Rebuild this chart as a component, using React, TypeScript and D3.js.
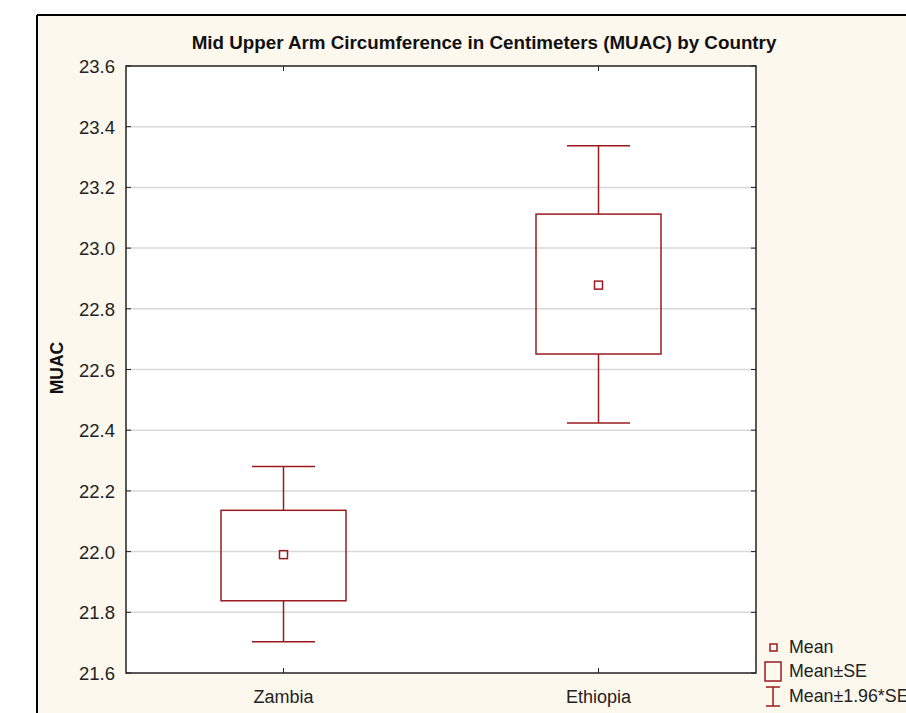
import React from 'react';
import * as d3 from 'd3';

// data
const countries = ['Zambia', 'Ethiopia'];
const means = [21.99, 22.878];
const seLow = [21.838, 22.651];
const seHigh = [22.136, 23.112];
const ciLow = [21.703, 22.424];
const ciHigh = [22.28, 23.337];
const yTicks = [21.6, 21.8, 22.0, 22.2, 22.4, 22.6, 22.8, 23.0, 23.2, 23.4, 23.6];

const W = 906;
const H = 713;
const red = '#9a1b1f';
const font = '"Liberation Sans", Arial, sans-serif';

const App = () => {
  const left = 126, right = 756, top = 66, bottom = 673;

  const y = d3.scaleLinear().domain([21.6, 23.6]).range([bottom, top]);
  const x = d3.scaleBand().domain(countries).range([left, right]);
  const cx = (c: string) => (x(c) as number) + x.bandwidth() / 2;

  const boxW = 125;
  const capW = 63;
  const m = 4;

  return (
    <svg width={W} height={H} style={{ position: 'absolute', left: 0, top: 0, display: 'block' }}>
      <rect x={0} y={0} width={W} height={H} fill="#fff" />
      <rect x={37} y={15} width={W - 37} height={H - 15} fill="#fdf8ee" />
      <line x1={37} x2={W} y1={15} y2={15} stroke="#000" strokeWidth={2} />
      <line x1={37} x2={37} y1={15} y2={H} stroke="#000" strokeWidth={2} />

      <text x={484} y={49} textAnchor="middle" fontFamily={font} fontWeight="bold" fontSize={18.8} fill="#111">
        Mid Upper Arm Circumference in Centimeters (MUAC) by Country
      </text>

      <rect x={left} y={top} width={right - left} height={bottom - top} fill="#fff" />

      {yTicks.slice(1, -1).map((t) => (
        <line key={'g' + t} x1={left} x2={right} y1={y(t)} y2={y(t)} stroke="#d8d8d8" strokeWidth={1.5} />
      ))}

      {yTicks.map((t) => (
        <g key={'t' + t}>
          <line x1={left} x2={left + 5} y1={y(t)} y2={y(t)} stroke="#222" />
          <line x1={right - 5} x2={right} y1={y(t)} y2={y(t)} stroke="#222" />
          <text x={115} y={y(t) + 7} textAnchor="end" fontFamily={font} fontSize={18.5} fill="#222">
            {t.toFixed(1)}
          </text>
        </g>
      ))}

      {countries.map((c) => (
        <g key={'x' + c}>
          <line x1={cx(c)} x2={cx(c)} y1={bottom} y2={bottom - 5} stroke="#222" />
          <line x1={cx(c)} x2={cx(c)} y1={top} y2={top + 5} stroke="#222" />
          <text x={cx(c)} y={703} textAnchor="middle" fontFamily={font} fontSize={18} fill="#222">
            {c}
          </text>
        </g>
      ))}

      {countries.map((c, i) => {
        const xc = cx(c);
        return (
          <g key={'b' + c} stroke={red} strokeWidth={1.5} fill="none">
            <line x1={xc} x2={xc} y1={y(ciHigh[i])} y2={y(seHigh[i])} />
            <line x1={xc} x2={xc} y1={y(seLow[i])} y2={y(ciLow[i])} />
            <line x1={xc - capW / 2} x2={xc + capW / 2} y1={y(ciHigh[i])} y2={y(ciHigh[i])} />
            <line x1={xc - capW / 2} x2={xc + capW / 2} y1={y(ciLow[i])} y2={y(ciLow[i])} />
            <rect x={xc - boxW / 2} y={y(seHigh[i])} width={boxW} height={y(seLow[i]) - y(seHigh[i])} />
            <rect x={xc - m} y={y(means[i]) - m} width={m * 2} height={m * 2} />
          </g>
        );
      })}

      <rect x={left} y={top} width={right - left} height={bottom - top} fill="none" stroke="#222" strokeWidth={1.5} />

      <text
        transform={`translate(63,${368}) rotate(-90)`}
        textAnchor="middle"
        fontFamily={font}
        fontWeight="bold"
        fontSize={17.5}
        fill="#111"
      >
        MUAC
      </text>

      {/* legend */}
      <g stroke={red} strokeWidth={1.5} fill="none">
        <rect x={770} y={644} width={7} height={7} />
        <rect x={765} y={662} width={16} height={19} />
        <line x1={773} x2={773} y1={687} y2={706} />
        <line x1={766} x2={780} y1={687} y2={687} />
        <line x1={766} x2={780} y1={706} y2={706} />
      </g>
      <g fontFamily={font} fontSize={17.8} fill="#222">
        <text x={789} y={653}>Mean</text>
        <text x={789} y={677}>Mean±SE</text>
        <text x={789} y={702}>Mean±1.96*SE</text>
      </g>
    </svg>
  );
};

export default App;
